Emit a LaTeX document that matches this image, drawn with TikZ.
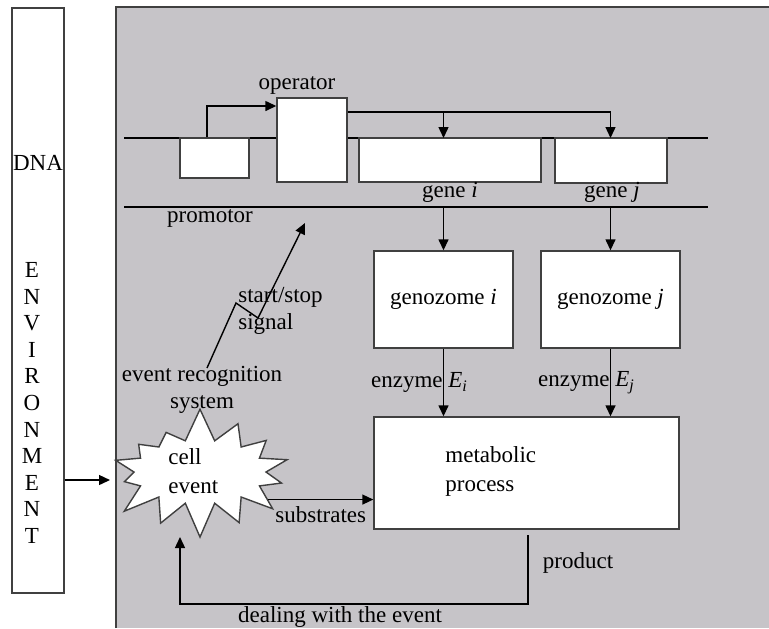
\documentclass[tikz,border=0pt]{standalone}
\usepackage{fontspec}
\setmainfont{Liberation Serif}
\usetikzlibrary{arrows.meta,shapes.symbols}
\definecolor{cellgray}{RGB}{198,196,200}
\begin{document}
\begin{tikzpicture}[x=0.5pt,y=-0.5pt,font=\fontsize{11.5}{13.5}\selectfont,
  box/.style={draw=black!75,fill=white,line width=0.7pt,inner sep=0pt},
  strand/.style={line width=1.3pt},
  arr/.style={line width=0.7pt,-{Triangle[length=5.5pt,width=5pt]}},
  lbl/.style={inner sep=0pt}]
\useasboundingbox (0,0) rectangle (769,628);
% cell and environment
\fill[cellgray] (116,7) rectangle (769,628);
\draw[black!75,line width=0.7pt] (116,628) -- (116,7) -- (769,7);
\node[box,minimum width=26pt,minimum height=292.5pt] (dnabox) at (38,300.5) {};
\node[lbl] (dnalbl) at (38,163) {DNA};
\foreach \c [count=\i] in {E,N,V,I,R,O,N,M,E,N,T} \node[lbl] (env\i) at (32,{243.4+26.6*\i}) {\c};
% DNA strands
\coordinate (s1a) at (124,138); \coordinate (s1b) at (708,138);
\coordinate (s2a) at (124,207); \coordinate (s2b) at (708,207);
\draw[strand] (s1a) -- (s1b);
\draw[strand] (s2a) -- (s2b);
\node[box,minimum width=34.5pt,minimum height=20pt] (prom) at (214.5,158) {};
\node[box,minimum width=35pt,minimum height=42pt] (oper) at (312,140) {};
\node[box,minimum width=91pt,minimum height=22pt] (genei) at (450,160) {};
\node[box,minimum width=56pt,minimum height=22.5pt] (genej) at (611,160.5) {};
\node[lbl] (operlbl) at (297,85) {operator};
\node[lbl] (promlbl) at (210,218) {promotor};
\node[lbl] (geneilbl) at (450,192) {gene \textit{i}};
\node[lbl] (genejlbl) at (612,192) {gene \textit{j}};
% genozomes and metabolism
\node[box,minimum width=69.5pt,minimum height=48.5pt] (genoi) at (443.5,299.5) {genozome \textit{i}};
\node[box,minimum width=69.5pt,minimum height=48.5pt] (genoj) at (610.5,299.5) {genozome \textit{j}};
\node[box,minimum width=152.5pt,minimum height=56pt] (meta) at (526.5,473) {};
\node[lbl,align=left,anchor=west] (metatxt) at (445,471) {metabolic\\[1pt]process};
\coordinate (pk) at (207,106);
\draw[arr] (pk |- prom.north) -- (pk) -- (oper.west |- pk);
\coordinate (ok) at (611,112);
\draw[line width=0.7pt] (oper.east |- ok) -- (ok);
\foreach \g in {genoi,genoj} \draw[arr] (\g.north |- ok) -- (\g.north |- s1a);
\foreach \g in {genoi,genoj} \draw[arr] (\g.north |- s2a) -- (\g.north);
\draw[arr] (genoi.south) -- (genoi.south |- meta.north) node[lbl,midway,xshift=-12pt] {enzyme \textit{E}\textsubscript{\textit{i}}};
\draw[arr] (genoj.south) -- (genoj.south |- meta.north) node[lbl,midway,xshift=-12pt] {enzyme \textit{E}\textsubscript{\textit{j}}};
% cell event
\node[starburst,draw=black!75,fill=white,line width=0.7pt,minimum width=100pt,minimum height=66pt,
  starburst points=14,starburst point height=17pt,random starburst=7] (star) at (200,472) {};
\node[lbl,align=left,anchor=west] (celltxt) at (168,471) {cell\\[1pt]event};
\node[lbl,align=center] (ers) at (202,390) {event recognition\\system};
\node[lbl,align=left,anchor=west] (sig) at (238,311) {start/stop\\signal};
\coordinate (z0) at (207,368); \coordinate (z1) at (236,303);
\coordinate (z2) at (258,318); \coordinate (z3) at (305,223);
\draw[arr] (z0) -- (z1) -- (z2) -- (z3);
\coordinate (ein) at (110,480);
\draw[arr] (dnabox.east |- ein) -- (ein);
\draw[arr] (star.-22) -- (meta.west |- star.-22) node[lbl,midway,below=3pt] {substrates};
\coordinate (pr) at (528,535); \coordinate (dl) at (180,604); \coordinate (ev) at (180,537);
\draw[arr] (pr) |- (dl) -- (ev);
\node[lbl] (prodlbl) at (578,563) {product};
\node[lbl] (deallbl) at (340,617) {dealing with the event};
\end{tikzpicture}
\end{document}
